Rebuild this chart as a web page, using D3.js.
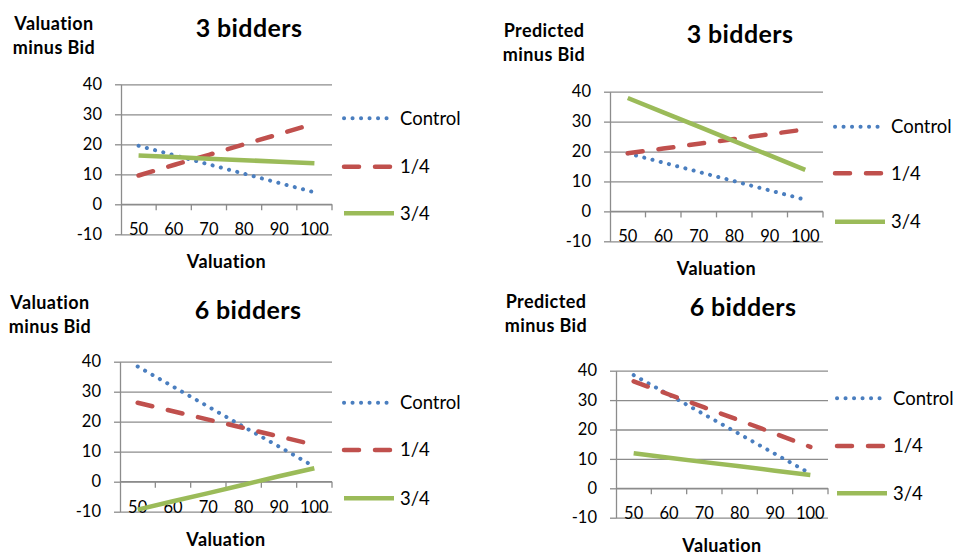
<!DOCTYPE html>
<html>
<head>
<meta charset="utf-8">
<script src="https://cdn.jsdelivr.net/npm/d3@7"></script>
<style>
  body { margin: 0; background: #fff; }
  text { font-family: Lato, "Open Sans", sans-serif; fill: #000; }
</style>
</head>
<body>
<svg id="chart" width="954" height="555"></svg>
<script>
// categories and ticks
const valuations = ['50', '60', '70', '80', '90', '100']
const yTicks = [-10, 0, 10, 20, 30, 40]
const seriesNames = ['Control', '1/4', '3/4']

// 3 bidders, valuation minus bid
const val3Control = [19.5, 16.4, 13.3, 10.2, 7.1, 4.0]
const val3Quarter = [9.6, 13.1, 16.5, 20.0, 23.4, 26.9]
const val3ThreeQuarter = [16.3, 15.8, 15.2, 14.7, 14.2, 13.7]

// 3 bidders, predicted minus bid
const pred3Control = [19.4, 16.3, 13.2, 10.1, 7.0, 3.9]
const pred3Quarter = [19.4, 21.0, 22.6, 24.2, 25.8, 27.4]
const pred3ThreeQuarter = [37.9, 33.1, 28.3, 23.5, 18.7, 13.9]

// 6 bidders, valuation minus bid
const val6Control = [38.4, 31.7, 25.0, 18.3, 11.7, 5.0]
const val6Quarter = [26.3, 23.5, 20.7, 17.9, 15.1, 12.3]
const val6ThreeQuarter = [-9.3, -6.5, -3.8, -1.0, 1.8, 4.5]

// 6 bidders, predicted minus bid
const pred6Control = [38.5, 31.8, 25.1, 18.4, 11.7, 5.0]
const pred6Quarter = [36.4, 31.9, 27.5, 23.1, 18.6, 14.1]
const pred6ThreeQuarter = [11.9, 10.4, 8.9, 7.5, 6.0, 4.5]

const styles = [
    { color: '#4A7EBF', width: 4, dash: '0.1,8.4', cap: 'round' },
    { color: '#C0504D', width: 4.5, dash: '15,16', cap: 'round' },
    { color: '#9BBB59', width: 4.5, dash: null, cap: 'butt' }
]

const svg = d3.select('#chart')

function drawPanel(p) {
    const x = d3.scaleBand().domain(valuations).range([p.left, p.right]).padding(0)
    const y = d3.scaleLinear().domain([-10, 40]).range([p.bottom, p.top])
    const g = svg.append('g')
    const gridColor = '#8c8c8c'

    // gridlines
    g.append('g')
        .attr('transform', `translate(${p.left},0)`)
        .call(d3.axisLeft(y).tickValues(yTicks).tickSize(-(p.right - p.left)).tickFormat(''))
        .call(a => a.select('.domain').remove())
        .call(a => a.selectAll('line').attr('stroke', gridColor).attr('stroke-width', 1.3))

    // y axis with labels
    g.append('g')
        .attr('transform', `translate(${p.left},0)`)
        .call(d3.axisLeft(y).tickValues(yTicks).tickSize(6).tickSizeOuter(0).tickPadding(13)
            .tickFormat(d => String(d)))
        .call(a => a.select('.domain').attr('stroke', gridColor).attr('stroke-width', 1.3))
        .call(a => a.selectAll('line').attr('stroke', gridColor).attr('stroke-width', 1.3))
        .call(a => a.selectAll('text').attr('font-size', 16.5).attr('font-family', 'Lato, sans-serif').attr('fill', '#000'))

    // x axis at zero with boundary ticks
    const bounds = valuations.map(d => x(d)).concat([p.right])
    g.append('line')
        .attr('x1', p.left).attr('x2', p.right)
        .attr('y1', y(0)).attr('y2', y(0))
        .attr('stroke', gridColor).attr('stroke-width', 1.3)
    g.selectAll('.xtick').data(bounds.slice(1)).join('line')
        .attr('x1', d => d).attr('x2', d => d)
        .attr('y1', y(0)).attr('y2', y(0) + 6)
        .attr('stroke', gridColor).attr('stroke-width', 1.3)
    g.selectAll('.xlab').data(valuations).join('text')
        .attr('x', d => x(d) + x.bandwidth() / 2)
        .attr('y', y(-10) + 1)
        .attr('text-anchor', 'middle')
        .attr('font-size', 16.5)
        .text(d => d)

    // series
    const line = d3.line()
        .x((d, i) => x(valuations[i]) + x.bandwidth() / 2)
        .y(d => y(d))
    p.series.forEach((s, i) => {
        const st = styles[i]
        g.append('path')
            .datum(s)
            .attr('d', line)
            .attr('fill', 'none')
            .attr('stroke', st.color)
            .attr('stroke-width', st.width)
            .attr('stroke-linecap', st.cap)
            .attr('stroke-dasharray', st.dash)
    })

    // legend
    seriesNames.forEach((name, i) => {
        const st = styles[i]
        const ly = p.legendY[i]
        g.append('line')
            .attr('x1', p.legendX).attr('x2', p.legendX + 50)
            .attr('y1', ly).attr('y2', ly)
            .attr('stroke', st.color)
            .attr('stroke-width', st.width)
            .attr('stroke-linecap', st.cap)
            .attr('stroke-dasharray', st.dash)
        g.append('text')
            .attr('x', p.legendX + 56)
            .attr('y', ly)
            .attr('dy', '0.35em')
            .attr('font-size', 18.5)
            .text(name)
    })

    // titles
    g.append('text')
        .attr('x', p.titleX).attr('y', p.titleY)
        .attr('text-anchor', 'middle')
        .attr('font-size', 25).attr('font-weight', 'bold')
        .attr('letter-spacing', 0.4)
        .text(p.title)
    p.yTitle.forEach((t, i) => {
        g.append('text')
            .attr('x', p.yTitleX).attr('y', p.yTitleY + i * 24)
            .attr('text-anchor', 'middle')
            .attr('font-size', 18).attr('font-weight', 'bold')
            .attr('letter-spacing', 0.4)
            .text(t)
    })
    g.append('text')
        .attr('x', (p.left + p.right) / 2).attr('y', p.xTitleY)
        .attr('text-anchor', 'middle')
        .attr('font-size', 18).attr('font-weight', 'bold')
        .attr('letter-spacing', 0.4)
        .text('Valuation')
}

drawPanel({
    left: 121, right: 332, top: 84.3, bottom: 234.3,
    series: [val3Control, val3Quarter, val3ThreeQuarter],
    title: '3 bidders', titleX: 249, titleY: 37,
    yTitle: ['Valuation', 'minus Bid'], yTitleX: 54, yTitleY: 29.5,
    legendX: 344, legendY: [118.3, 166.7, 213.3],
    xTitleY: 268
})
drawPanel({
    left: 610, right: 823, top: 91.7, bottom: 241.3,
    series: [pred3Control, pred3Quarter, pred3ThreeQuarter],
    title: '3 bidders', titleX: 740, titleY: 43,
    yTitle: ['Predicted', 'minus Bid'], yTitleX: 544, yTitleY: 37,
    legendX: 835, legendY: [126.7, 173.3, 221.7],
    xTitleY: 275
})
drawPanel({
    left: 120, right: 332, top: 361.7, bottom: 511.7,
    series: [val6Control, val6Quarter, val6ThreeQuarter],
    title: '6 bidders', titleX: 248, titleY: 319,
    yTitle: ['Valuation', 'minus Bid'], yTitleX: 50, yTitleY: 309,
    legendX: 344, legendY: [402.7, 450, 498.3],
    xTitleY: 546
})
drawPanel({
    left: 616, right: 828, top: 370.7, bottom: 517.7,
    series: [pred6Control, pred6Quarter, pred6ThreeQuarter],
    title: '6 bidders', titleX: 743, titleY: 316,
    yTitle: ['Predicted', 'minus Bid'], yTitleX: 546, yTitleY: 308,
    legendX: 837, legendY: [398.3, 446, 493.3],
    xTitleY: 552
})
</script>
</body>
</html>
